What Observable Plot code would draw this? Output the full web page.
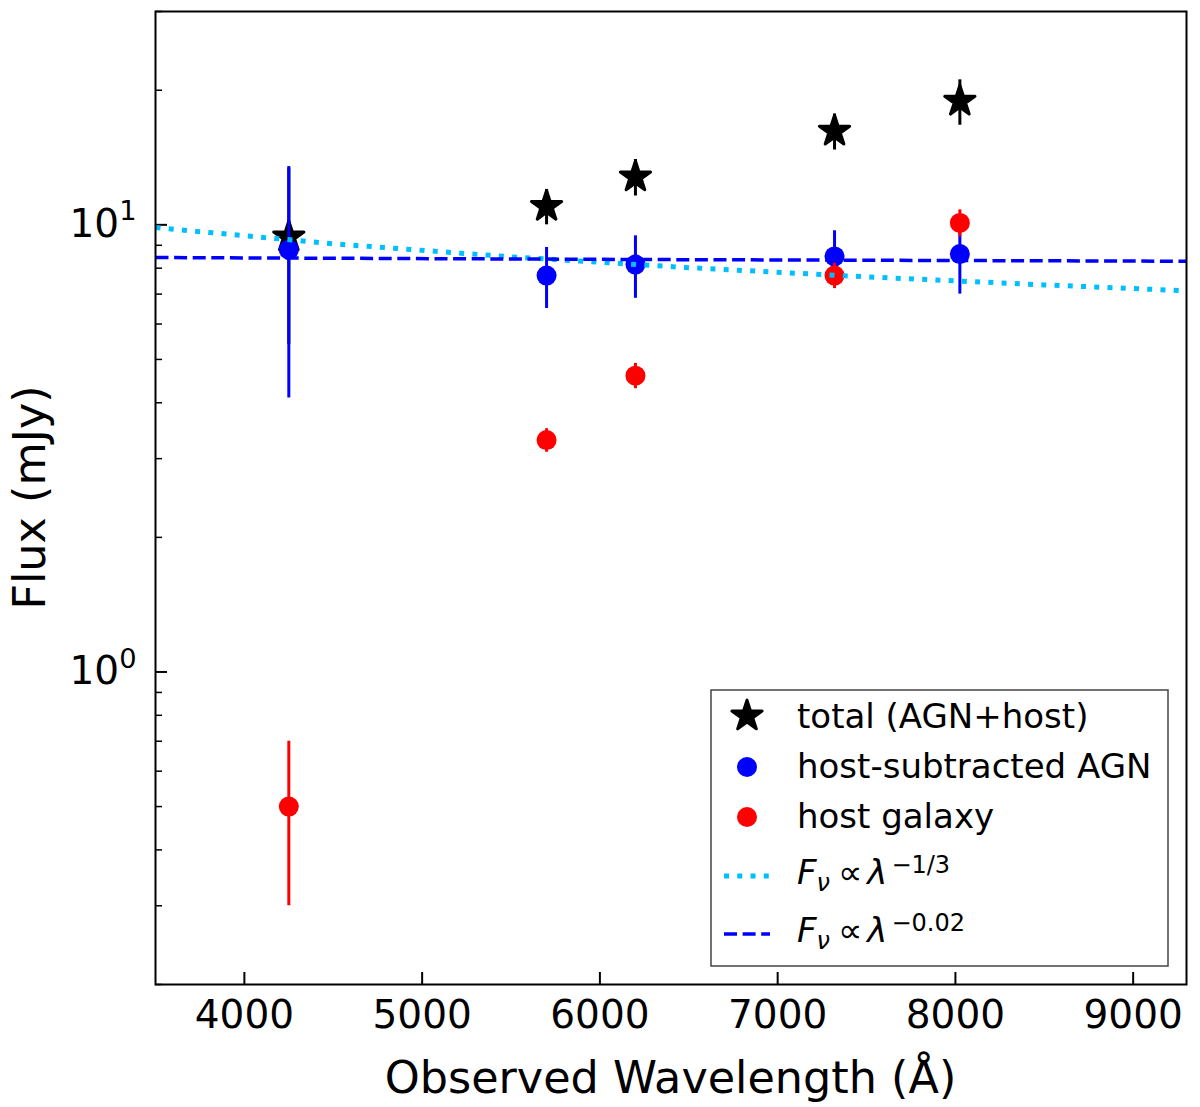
<!DOCTYPE html>
<html>
<head>
<meta charset="utf-8">
<script src="https://cdn.jsdelivr.net/npm/d3@7"></script>
<script src="https://cdn.jsdelivr.net/npm/@observablehq/plot@0.6"></script>
<style>
  body { margin: 0; background: #fff; }
  #plot svg { display: block; }
</style>
</head>
<body>
<div id="plot"></div>
<script>
// observed wavelengths of the five bands (Å)
const wavelength = [4250, 5700, 6200, 7320, 8025];

// total (AGN+host)
const totalFlux = [9.4, 11.0, 12.8, 16.2, 18.9];
const totalErr = [4.0, 1.0, 1.2, 1.5, 2.2];

// host-subtracted AGN
const agnFlux = [8.8, 7.7, 8.15, 8.5, 8.6];
const agnErr = [4.7, 1.2, 1.3, 1.2, 1.6];

// host galaxy
const hostFlux = [0.5, 3.3, 4.6, 7.7, 10.1];
const hostErr = [0.2, 0.2, 0.3, 0.5, 0.7];

// power-law lines
const thirdLambda = [3500, 4500, 5500, 6500, 7500, 8500, 9300];
const thirdFlux = [9.86, 9.07, 8.48, 8.02, 7.65, 7.34, 7.12];
const flatLambda = [3500, 6400, 9300];
const flatFlux = [8.45, 8.36, 8.29];

const xTicks = [4000, 5000, 6000, 7000, 8000, 9000];
const yMajor = [1, 10];
const yMinor = [0.2, 0.3, 0.4, 0.5, 0.6, 0.7, 0.8, 0.9, 2, 3, 4, 5, 6, 7, 8, 9, 20, 30];

const W = 1200, H = 1107;
const mL = 155, mR = 14, mT = 11, mB = 123;
const plotW = W - mL - mR, plotH = H - mT - mB;

const rows = (f, e) => wavelength.map((w, i) => ({w, f: f[i], e: e[i]}));
const total = rows(totalFlux, totalErr);
const agn = rows(agnFlux, agnErr);
const host = rows(hostFlux, hostErr);
const third = thirdLambda.map((w, i) => ({w, f: thirdFlux[i]}));
const flat = flatLambda.map((w, i) => ({w, f: flatFlux[i]}));

const BLUE = "#0000ff", RED = "#ff0000", SKY = "#00bfff";

function errorbars(data, color) {
  return Plot.ruleX(data, {x: "w", y1: d => d.f - d.e, y2: d => d.f + d.e, stroke: color, strokeWidth: 3});
}

const plot = Plot.plot({
  width: W,
  height: H,
  marginLeft: mL,
  marginRight: mR,
  marginTop: mT,
  marginBottom: mB,
  style: {background: "#fff", color: "#000", fontFamily: "DejaVu Sans"},
  x: {domain: [3500, 9300]},
  y: {type: "log", domain: [0.2, 30]},
  marks: [
    Plot.axisX(xTicks, {tickSize: 0, tickPadding: 16, fontSize: 39, tickFormat: d => String(d), label: null}),
    Plot.axisY(yMajor, {tickSize: 0, tickPadding: 19, fontSize: 39, tickFormat: d => String(Math.round(Math.log10(d))), label: null}),
    // inward ticks
    Plot.tickX(xTicks, {x: d => d, insetTop: plotH - 12, stroke: "black", strokeWidth: 2}),
    Plot.tickY(yMajor, {y: d => d, insetRight: plotW - 12, stroke: "black", strokeWidth: 2}),
    Plot.tickY(yMinor, {y: d => d, insetRight: plotW - 7, stroke: "black", strokeWidth: 1.5}),

    errorbars(total, "black"),
    Plot.dot(total, {x: "w", y: "f", symbol: "star", r: 9.5, fill: "black", stroke: "black", strokeWidth: 3, strokeLinejoin: "round"}),
    errorbars(agn, BLUE),
    Plot.dot(agn, {x: "w", y: "f", r: 10, fill: BLUE}),
    errorbars(host, RED),
    Plot.dot(host, {x: "w", y: "f", r: 10, fill: RED}),

    Plot.line(third, {x: "w", y: "f", stroke: SKY, strokeWidth: 5, strokeDasharray: "5 8.25", strokeLinecap: "butt"}),
    Plot.line(flat, {x: "w", y: "f", stroke: BLUE, strokeWidth: 3.5, strokeDasharray: "13 5.6", strokeLinecap: "butt"}),
    Plot.frame({stroke: "black", strokeWidth: 2})
  ]
});

document.getElementById("plot").appendChild(plot);

const svg = d3.select(plot);

// 10^n tick labels
svg.selectAll('g[aria-label="y-axis tick label"] text').each(function () {
  const exp = this.textContent;
  const t = d3.select(this);
  t.text("10");
  t.append("tspan").attr("dy", "-0.62em").attr("font-size", "0.7em").text(exp);
});

// axis titles
svg.append("text")
  .attr("x", mL + plotW / 2).attr("y", 1093)
  .attr("text-anchor", "middle").attr("font-size", 44.5).attr("fill", "black")
  .text("Observed Wavelength (Å)");
svg.append("text")
  .attr("transform", `translate(45,${mT + plotH / 2}) rotate(-90)`)
  .attr("text-anchor", "middle").attr("font-size", 44.5).attr("fill", "black")
  .text("Flux (mJy)");

// legend
const lg = svg.append("g").attr("font-family", "DejaVu Sans").attr("text-anchor", "start").attr("fill", "black");
lg.append("rect").attr("x", 711).attr("y", 690).attr("width", 457).attr("height", 276)
  .attr("fill", "white").attr("stroke", "#444").attr("stroke-width", 1.5);

const mx = 747, tx = 797;
lg.append("path").attr("transform", `translate(${mx},716)`)
  .attr("d", d3.symbol(d3.symbolStar, Math.PI * 9.5 * 9.5)())
  .attr("fill", "black").attr("stroke", "black").attr("stroke-width", 3).attr("stroke-linejoin", "round");
lg.append("circle").attr("cx", mx).attr("cy", 767).attr("r", 10).attr("fill", BLUE);
lg.append("circle").attr("cx", mx).attr("cy", 817).attr("r", 10).attr("fill", RED);
lg.append("line").attr("x1", 724).attr("x2", 770).attr("y1", 876).attr("y2", 876)
  .attr("stroke", SKY).attr("stroke-width", 5).attr("stroke-dasharray", "5 8.25");
lg.append("line").attr("x1", 724).attr("x2", 770).attr("y1", 934).attr("y2", 934)
  .attr("stroke", BLUE).attr("stroke-width", 3.5).attr("stroke-dasharray", "13 5.6");

const labels = [["total (AGN+host)", 728], ["host-subtracted AGN", 778], ["host galaxy", 828]];
labels.forEach(([s, y]) => {
  lg.append("text").attr("x", tx).attr("y", y).attr("font-size", 34).text(s);
});

function powerLaw(y, exponent) {
  const t = lg.append("text").attr("x", tx).attr("y", y).attr("font-size", 34);
  t.append("tspan").attr("font-style", "italic").text("F");
  t.append("tspan").attr("font-style", "italic").attr("font-size", 24).attr("dy", 7).text("ν");
  t.append("tspan").attr("dy", -7).attr("dx", 8).text("∝");
  t.append("tspan").attr("font-style", "italic").attr("dx", 5).text("λ");
  t.append("tspan").attr("font-size", 24).attr("dy", -11).attr("dx", 4).text(exponent);
}
powerLaw(884, "−1/3");
powerLaw(942, "−0.02");
</script>
</body>
</html>
